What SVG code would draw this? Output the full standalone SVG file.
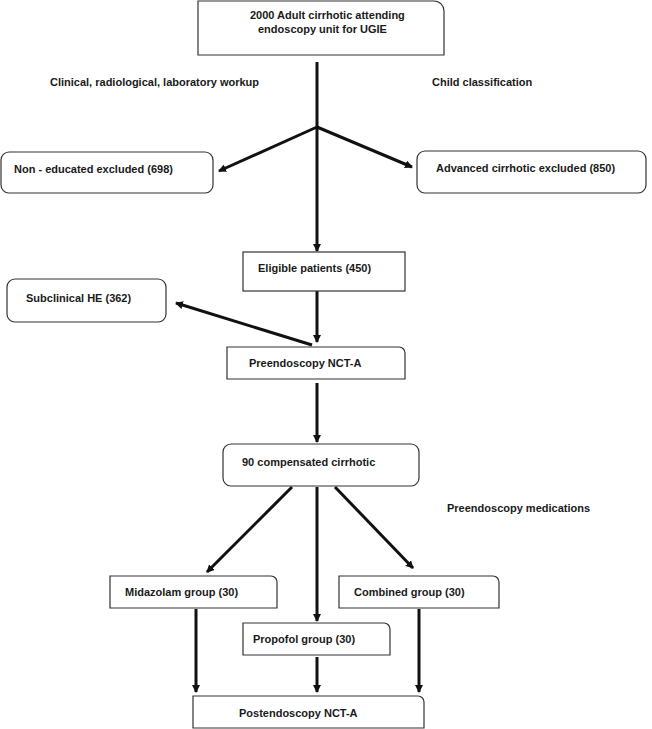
<svg xmlns="http://www.w3.org/2000/svg" width="652" height="729" viewBox="0 0 652 729">
<style>
.box{fill:#fff;stroke:#333;stroke-width:1.2}
.t{font-family:"Liberation Sans",Arial,sans-serif;font-size:11px;font-weight:bold;fill:#1a1a1a}
.c{fill:none;stroke:#111;stroke-width:3}
</style>
<defs>
<marker id="ah" markerUnits="userSpaceOnUse" markerWidth="8" markerHeight="8" refX="7" refY="4" orient="auto">
<path d="M0,0 L8,4 L0,8 Z" fill="#111"/>
</marker>
</defs>
<rect width="652" height="729" fill="#fff"/>
<g id="connectors">
<path class="c" d="M317,62 V251" marker-end="url(#ah)"/>
<path class="c" d="M317,127 L219,171" marker-end="url(#ah)"/>
<path class="c" d="M317,127 L412,167" marker-end="url(#ah)"/>
<path class="c" d="M317,291 V342" marker-end="url(#ah)"/>
<path class="c" d="M312,345 L176,303" marker-end="url(#ah)"/>
<path class="c" d="M317,383 V442" marker-end="url(#ah)"/>
<path class="c" d="M292,487 L207,572" marker-end="url(#ah)"/>
<path class="c" d="M317,487 V621" marker-end="url(#ah)"/>
<path class="c" d="M335,487 L413,568" marker-end="url(#ah)"/>
<path class="c" d="M196,609 V692" marker-end="url(#ah)"/>
<path class="c" d="M317,657 V692" marker-end="url(#ah)"/>
<path class="c" d="M419,609 V692" marker-end="url(#ah)"/>
</g>
<g id="labels">
<text class="t" x="50" y="86">Clinical, radiological, laboratory workup</text>
<text class="t" x="432" y="86">Child classification</text>
<text class="t" x="447" y="512">Preendoscopy medications</text>
</g>
<g id="n-start">
<path class="box" d="M198,1 H434 A10,10 0 0 1 444,11 V55 H198 Z"/>
<text class="t" x="250" y="19">2000 Adult cirrhotic attending</text>
<text class="t" x="258" y="33">endoscopy unit for UGIE</text>
</g>
<g id="n-noneducated">
<rect class="box" x="1" y="152" width="212" height="41" rx="8"/>
<text class="t" x="14" y="173">Non - educated excluded (698)</text>
</g>
<g id="n-advanced">
<rect class="box" x="417" y="151" width="229" height="42" rx="8"/>
<text class="t" x="436" y="172">Advanced cirrhotic excluded (850)</text>
</g>
<g id="n-eligible">
<rect class="box" x="243" y="252" width="162" height="39"/>
<text class="t" x="258" y="272">Eligible patients (450)</text>
</g>
<g id="n-subclinical">
<rect class="box" x="7" y="279" width="159" height="43" rx="8"/>
<text class="t" x="26" y="302">Subclinical HE (362)</text>
</g>
<g id="n-preendo">
<path class="box" d="M227,347 H399 A6,6 0 0 1 405,353 V379 H227 Z"/>
<text class="t" x="249" y="367">Preendoscopy NCT-A</text>
</g>
<g id="n-compensated">
<rect class="box" x="223" y="444" width="196" height="42" rx="8"/>
<text class="t" x="242" y="466">90 compensated cirrhotic</text>
</g>
<g id="n-midazolam">
<path class="box" d="M110,576 H271 A6,6 0 0 1 277,582 V608 H110 Z"/>
<text class="t" x="125" y="596">Midazolam group (30)</text>
</g>
<g id="n-combined">
<path class="box" d="M339,576 H493 A6,6 0 0 1 499,582 V608 H339 Z"/>
<text class="t" x="354" y="596">Combined group (30)</text>
</g>
<g id="n-propofol">
<path class="box" d="M243,623 H384 A6,6 0 0 1 390,629 V655 H243 Z"/>
<text class="t" x="253" y="643">Propofol group (30)</text>
</g>
<g id="n-postendo">
<path class="box" d="M193,696 H418 A6,6 0 0 1 424,702 V728 H193 Z"/>
<text class="t" x="239" y="717">Postendoscopy NCT-A</text>
</g>
</svg>
